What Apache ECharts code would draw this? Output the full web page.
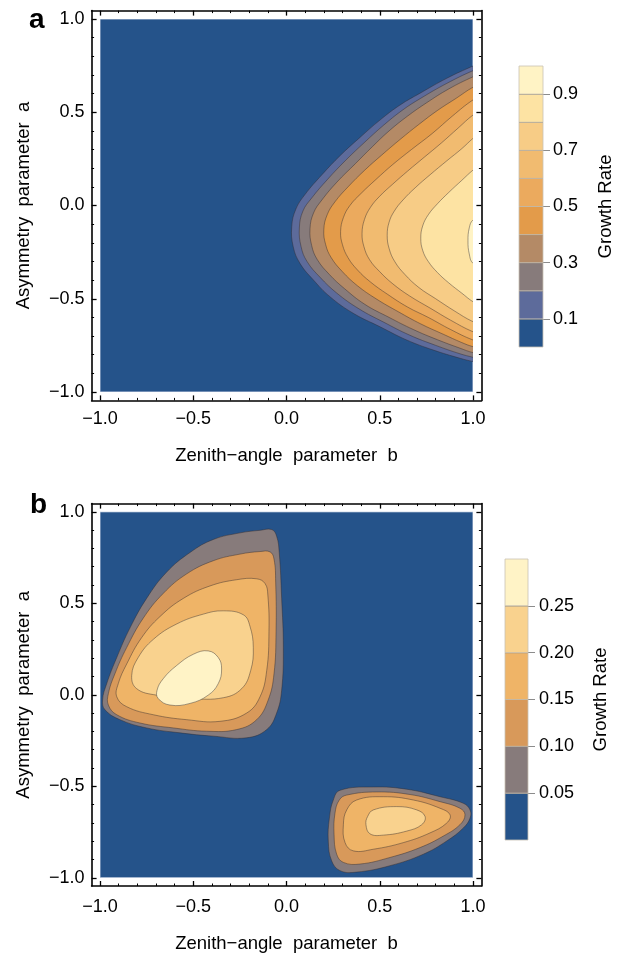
<!DOCTYPE html>
<html><head><meta charset="utf-8">
<script src="https://cdn.jsdelivr.net/npm/echarts@6/dist/echarts.min.js"></script>
<style>html,body{margin:0;padding:0;background:#fff}#c{width:627px;height:954px}</style>
</head><body><div id="c"></div>
<script>
// ---------------- data ----------------
const majorTicks = [-1, -0.5, 0, 0.5, 1];
const minorTicks = [-0.9,-0.8,-0.7,-0.6,-0.4,-0.3,-0.2,-0.1,0.1,0.2,0.3,0.4,0.6,0.7,0.8,0.9];
const domain = [[-1,-1],[1,-1],[1,1],[-1,1]];

// panel a: contour levels and colours (band i = levels[i]..levels[i+1])
const levelsA = [0,0.1,0.2,0.3,0.4,0.5,0.6,0.7,0.8,0.9,1.0];
const colorsA = ['#25538a','#5d6b9b','#877b7b','#b48a66','#e39b4a','#ebaa5e','#f1bb70','#f7cc86','#fde3a3','#fff3c5'];
const barLabelsA = [0.1,0.3,0.5,0.7,0.9];

// panel a contour lines (b, a), levels 0.1 ... 0.9
const contourA01 = [[1.1,-0.86],[1,-0.837],[0.93,-0.819],[0.787,-0.775],[0.644,-0.721],[0.501,-0.65],[0.358,-0.578],[0.233,-0.489],[0.144,-0.399],[0.072,-0.31],[0.036,-0.221],[0.028,-0.114],[0.05,-0.02],[0.1,0.06],[0.19,0.165],[0.29,0.27],[0.394,0.365],[0.501,0.458],[0.609,0.539],[0.716,0.602],[0.859,0.682],[1,0.748],[1.1,0.79]];
const contourA02 = [[1.1,-0.84],[1,-0.814],[0.93,-0.795],[0.8,-0.75],[0.66,-0.695],[0.52,-0.625],[0.39,-0.555],[0.27,-0.47],[0.18,-0.385],[0.11,-0.3],[0.078,-0.22],[0.069,-0.12],[0.088,-0.03],[0.135,0.04],[0.22,0.14],[0.32,0.245],[0.42,0.34],[0.52,0.43],[0.62,0.51],[0.72,0.575],[0.86,0.655],[1,0.723],[1.1,0.76]];
const contourA03 = [[1.1,-0.81],[1,-0.789],[0.93,-0.765],[0.81,-0.72],[0.68,-0.665],[0.55,-0.6],[0.42,-0.53],[0.31,-0.445],[0.23,-0.37],[0.165,-0.29],[0.135,-0.215],[0.126,-0.125],[0.145,-0.04],[0.19,0.03],[0.27,0.125],[0.37,0.225],[0.46,0.315],[0.55,0.4],[0.65,0.48],[0.75,0.55],[0.87,0.625],[1,0.69],[1.1,0.73]];
const contourA04 = [[1.1,-0.78],[1,-0.757],[0.94,-0.735],[0.84,-0.69],[0.72,-0.635],[0.6,-0.57],[0.48,-0.5],[0.38,-0.43],[0.3,-0.355],[0.24,-0.28],[0.21,-0.21],[0.2,-0.13],[0.218,-0.05],[0.26,0.02],[0.33,0.1],[0.42,0.19],[0.51,0.27],[0.61,0.355],[0.71,0.435],[0.81,0.51],[0.91,0.575],[1,0.634],[1.1,0.68]];
const contourA05 = [[1.1,-0.75],[1,-0.721],[0.88,-0.665],[0.76,-0.6],[0.65,-0.545],[0.54,-0.475],[0.45,-0.41],[0.38,-0.345],[0.33,-0.28],[0.3,-0.21],[0.29,-0.14],[0.305,-0.065],[0.34,0.0],[0.4,0.065],[0.48,0.14],[0.57,0.22],[0.67,0.3],[0.78,0.385],[0.89,0.48],[1,0.566],[1.1,0.62]];
const contourA06 = [[1.1,-0.71],[1,-0.677],[0.88,-0.615],[0.77,-0.55],[0.66,-0.485],[0.57,-0.42],[0.5,-0.355],[0.445,-0.29],[0.415,-0.22],[0.405,-0.15],[0.418,-0.075],[0.45,-0.01],[0.5,0.05],[0.57,0.115],[0.65,0.185],[0.74,0.26],[0.83,0.335],[0.92,0.415],[1,0.485],[1.1,0.55]];
const contourA07 = [[1.1,-0.66],[1,-0.623],[0.9,-0.565],[0.8,-0.5],[0.71,-0.44],[0.635,-0.37],[0.58,-0.3],[0.55,-0.23],[0.54,-0.16],[0.55,-0.09],[0.578,-0.03],[0.625,0.03],[0.69,0.095],[0.77,0.165],[0.86,0.24],[0.94,0.305],[1,0.36],[1.1,0.44]];
const contourA08 = [[1.1,-0.57],[1,-0.516],[0.94,-0.47],[0.87,-0.415],[0.81,-0.36],[0.76,-0.3],[0.73,-0.24],[0.72,-0.175],[0.73,-0.11],[0.76,-0.05],[0.81,0.01],[0.87,0.07],[0.94,0.135],[1,0.19],[1.1,0.27]];
const contourA09 = [[1.1,-0.37],[1,-0.31],[0.98,-0.26],[0.973,-0.19],[0.98,-0.12],[1,-0.078],[1.1,-0.02]];
const contoursA = [contourA01, contourA02, contourA03, contourA04, contourA05, contourA06, contourA07, contourA08, contourA09];

// panel b
const levelsB = [0,0.05,0.10,0.15,0.20,0.25,0.30];
const colorsB = ['#25538a','#877b7b','#d8995a','#efb467','#f9d28e','#fff3c6'];
const barLabelsB = [0.05,0.10,0.15,0.20,0.25];

// upper-left island, levels 0.05 ... 0.25
const islandB1_005 = [[-0.079,0.903],[-0.053,0.867],[-0.039,0.778],[-0.026,0.527],[-0.017,0.258],[-0.026,0.025],[-0.053,-0.1],[-0.106,-0.19],[-0.214,-0.235],[-0.392,-0.226],[-0.571,-0.208],[-0.75,-0.181],[-0.893,-0.136],[-0.973,-0.082],[-0.986,-0.028],[-0.964,0.061],[-0.91,0.204],[-0.839,0.366],[-0.75,0.527],[-0.643,0.67],[-0.517,0.778],[-0.392,0.849],[-0.249,0.885],[-0.142,0.899]];
const islandB1_010 = [[-0.088,0.781],[-0.067,0.742],[-0.058,0.616],[-0.056,0.348],[-0.067,0.115],[-0.098,-0.028],[-0.16,-0.136],[-0.267,-0.19],[-0.428,-0.199],[-0.607,-0.181],[-0.786,-0.154],[-0.91,-0.109],[-0.955,-0.056],[-0.955,0.007],[-0.92,0.115],[-0.857,0.258],[-0.768,0.419],[-0.661,0.554],[-0.535,0.661],[-0.392,0.733],[-0.249,0.769],[-0.142,0.783]];
const islandB1_015 = [[-0.267,0.629],[-0.16,0.634],[-0.115,0.608],[-0.1,0.545],[-0.094,0.348],[-0.106,0.133],[-0.142,-0.011],[-0.214,-0.1],[-0.357,-0.145],[-0.535,-0.136],[-0.714,-0.109],[-0.857,-0.065],[-0.91,-0.011],[-0.902,0.061],[-0.857,0.168],[-0.777,0.312],[-0.678,0.428],[-0.553,0.527],[-0.41,0.595]];
const islandB1_020 = [[-0.339,0.459],[-0.231,0.437],[-0.196,0.375],[-0.178,0.258],[-0.192,0.133],[-0.24,0.034],[-0.339,-0.016],[-0.517,-0.02],[-0.696,-0.002],[-0.804,0.034],[-0.83,0.106],[-0.795,0.204],[-0.714,0.303],[-0.589,0.387],[-0.446,0.441]];
const islandB1_025 = [[-0.42,0.24],[-0.366,0.204],[-0.348,0.141],[-0.366,0.061],[-0.42,-0.002],[-0.517,-0.047],[-0.625,-0.056],[-0.688,-0.02],[-0.694,0.025],[-0.661,0.088],[-0.589,0.16],[-0.499,0.222]];
// lower-right island, levels 0.05 ... 0.20
const islandB2_005 = [[0.287,-0.522],[0.466,-0.504],[0.644,-0.516],[0.823,-0.557],[0.948,-0.593],[0.984,-0.629],[0.984,-0.674],[0.948,-0.728],[0.859,-0.799],[0.734,-0.871],[0.555,-0.934],[0.376,-0.969],[0.287,-0.961],[0.242,-0.907],[0.224,-0.799],[0.23,-0.674],[0.251,-0.575]];
const islandB2_010 = [[0.323,-0.548],[0.484,-0.531],[0.662,-0.545],[0.823,-0.584],[0.93,-0.62],[0.957,-0.656],[0.93,-0.71],[0.841,-0.772],[0.716,-0.835],[0.555,-0.889],[0.394,-0.925],[0.305,-0.916],[0.269,-0.871],[0.255,-0.763],[0.26,-0.647],[0.283,-0.575]];
const islandB2_015 = [[0.376,-0.575],[0.519,-0.557],[0.68,-0.575],[0.823,-0.62],[0.877,-0.656],[0.859,-0.701],[0.769,-0.755],[0.626,-0.808],[0.466,-0.844],[0.358,-0.853],[0.314,-0.808],[0.305,-0.71],[0.323,-0.629]];
const islandB2_020 = [[0.466,-0.629],[0.591,-0.611],[0.698,-0.629],[0.743,-0.665],[0.725,-0.71],[0.644,-0.745],[0.519,-0.767],[0.448,-0.76],[0.426,-0.71],[0.435,-0.665]];
const contoursB = [
  {lvl:1, pts:islandB1_005},{lvl:2, pts:islandB1_010},{lvl:3, pts:islandB1_015},{lvl:4, pts:islandB1_020},{lvl:5, pts:islandB1_025},
  {lvl:1, pts:islandB2_005},{lvl:2, pts:islandB2_010},{lvl:3, pts:islandB2_015},{lvl:4, pts:islandB2_020}
];

// ---------------- build ----------------
const FONT = 'Liberation Sans, Arial, Helvetica, sans-serif';
const FS = 18, FST = 18.5;
const AXMIN = -1.045, AXMAX = 1.045;
const fmt = v => (v < 0 ? '\u2212' : '') + Math.abs(v).toFixed(1);

function frameAxes(g, dim, name, nameGap, labelMargin) {
  const isX = dim === 'x';
  const sides = isX ? ['bottom','top'] : ['left','right'];
  const out = [];
  sides.forEach((pos, si) => {
    out.push({
      gridIndex: g, type: 'value', position: pos, min: AXMIN, max: AXMAX,
      axisLine: {show: true, onZero: false, lineStyle: {color: '#000', width: 1.6}},
      axisTick: {show: true, inside: true, length: 5, customValues: majorTicks, lineStyle: {color: '#000', width: 1.3}},
      axisLabel: {show: si === 0, customValues: majorTicks, formatter: fmt, color: '#000', fontSize: FS, fontFamily: FONT, margin: labelMargin},
      splitLine: {show: false},
      name: si === 0 ? name : '', nameLocation: 'middle', nameGap: nameGap,
      nameTextStyle: {color: '#000', fontSize: FST, fontFamily: FONT}
    });
    out.push({
      gridIndex: g, type: 'value', position: pos, min: AXMIN, max: AXMAX,
      axisLine: {show: false, onZero: false},
      axisTick: {show: true, inside: true, length: 2.5, customValues: minorTicks, lineStyle: {color: '#000', width: 1}},
      axisLabel: {show: false}, splitLine: {show: false}
    });
  });
  return out;
}

const xAxes = [].concat(
  frameAxes(0, 'x', 'Zenith\u2212angle  parameter  b', 46, 10),
  frameAxes(2, 'x', 'Zenith\u2212angle  parameter  b', 48, 12)
);
const yAxes = [].concat(
  frameAxes(0, 'y', 'Asymmetry  parameter  a', 58, 7),
  frameAxes(2, 'y', 'Asymmetry  parameter  a', 58, 7)
);
// colour bars
xAxes.push({gridIndex: 1, type: 'value', min: 0, max: 1, show: false});
xAxes.push({gridIndex: 3, type: 'value', min: 0, max: 1, show: false});
const barY = (g, ticks, lo, hi, digits, gap, margin) => ({
  gridIndex: g, type: 'value', position: 'right', min: lo, max: hi,
  axisLine: {show: false, onZero: false},
  axisTick: {show: true, length: 7, customValues: ticks, lineStyle: {color: '#8c8c8c', width: 1}},
  axisLabel: {customValues: ticks, formatter: v => v.toFixed(digits), color: '#000', fontSize: FS, fontFamily: FONT, margin: margin},
  splitLine: {show: false},
  name: 'Growth Rate', nameLocation: 'middle', nameRotate: 90, nameGap: gap,
  nameTextStyle: {color: '#000', fontSize: FST, fontFamily: FONT}
});
yAxes.push(barY(1, barLabelsA, levelsA[0], levelsA[levelsA.length-1], 1, 53, 10));
yAxes.push(barY(3, barLabelsB, levelsB[0], levelsB[levelsB.length-1], 2, 63, 11));

// index of first axis of each grid
const X0 = 0, X2 = 4, XB1 = 8, XB3 = 9;
const Y0 = 0, Y2 = 4, YB1 = 8, YB3 = 9;

function contourSeries(xi, yi, shapes, colors) {
  return {
    type: 'custom', xAxisIndex: xi, yAxisIndex: yi, silent: true,
    data: shapes.map((s, i) => [0, 0, i]),
    renderItem: function (params, api) {
      const s = shapes[params.dataIndex];
      const pts = s.pts.map(p => api.coord(p));
      const tl = api.coord([-1, 1]), br = api.coord([1, -1]);
      const bg = s.lvl === 0;
      return {
        type: 'polygon',
        shape: {points: pts, smooth: bg ? 0 : 0.42},
        style: {fill: colors[s.lvl], stroke: bg ? '#c2cde0' : 'rgba(45,40,45,0.62)', lineWidth: bg ? 1 : 0.7},
        clipPath: {type: 'rect', shape: {x: tl[0], y: tl[1], width: br[0] - tl[0], height: br[1] - tl[1]}}
      };
    }
  };
}

const shapesA = [{lvl: 0, pts: domain}].concat(contoursA.map((p, i) => ({lvl: i + 1, pts: p})));
const shapesB = [{lvl: 0, pts: domain}].concat(contoursB);

function colorbarSeries(xi, yi, levels, colors) {
  const bands = colors.map((c, i) => [levels[i], levels[i + 1], i]);
  return {
    type: 'custom', xAxisIndex: xi, yAxisIndex: yi, silent: true,
    data: bands,
    renderItem: function (params, api) {
      const lo = api.value(0), hi = api.value(1), i = api.value(2);
      const p1 = api.coord([0, hi]), p2 = api.coord([1, lo]);
      const children = [{
        type: 'rect', shape: {x: p1[0], y: p1[1], width: p2[0] - p1[0], height: p2[1] - p1[1]},
        style: {fill: colors[i], stroke: '#c9c2b4', lineWidth: 0.8}
      }];
      if (i < colors.length - 1) {
        children.push({type: 'line', shape: {x1: p1[0], y1: p1[1], x2: p2[0], y2: p1[1]},
          style: {stroke: 'rgba(60,55,55,0.75)', lineWidth: 0.8}});
      }
      return {type: 'group', children: children};
    }
  };
}

const chart = echarts.init(document.getElementById('c'), null, {renderer: 'canvas'});
chart.setOption({
  animation: false,
  backgroundColor: '#fff',
  title: [
    {text: 'a', left: 24, top: 1, textStyle: {fontSize: 28, fontWeight: 'bold', color: '#000', fontFamily: FONT}},
    {text: 'b', left: 25, top: 486, textStyle: {fontSize: 28, fontWeight: 'bold', color: '#000', fontFamily: FONT}}
  ],
  grid: [
    {left: 91.6, top: 10.6, width: 389.8, height: 389.8},
    {left: 519, top: 66, width: 24, height: 281},
    {left: 91.6, top: 503.6, width: 389.8, height: 388.7},
    {left: 505, top: 559, width: 23, height: 281}
  ],
  xAxis: xAxes,
  yAxis: yAxes,
  series: [
    contourSeries(X0, Y0, shapesA, colorsA),
    colorbarSeries(XB1, YB1, levelsA, colorsA),
    contourSeries(X2, Y2, shapesB, colorsB),
    colorbarSeries(XB3, YB3, levelsB, colorsB)
  ]
});
</script>
</body></html>
